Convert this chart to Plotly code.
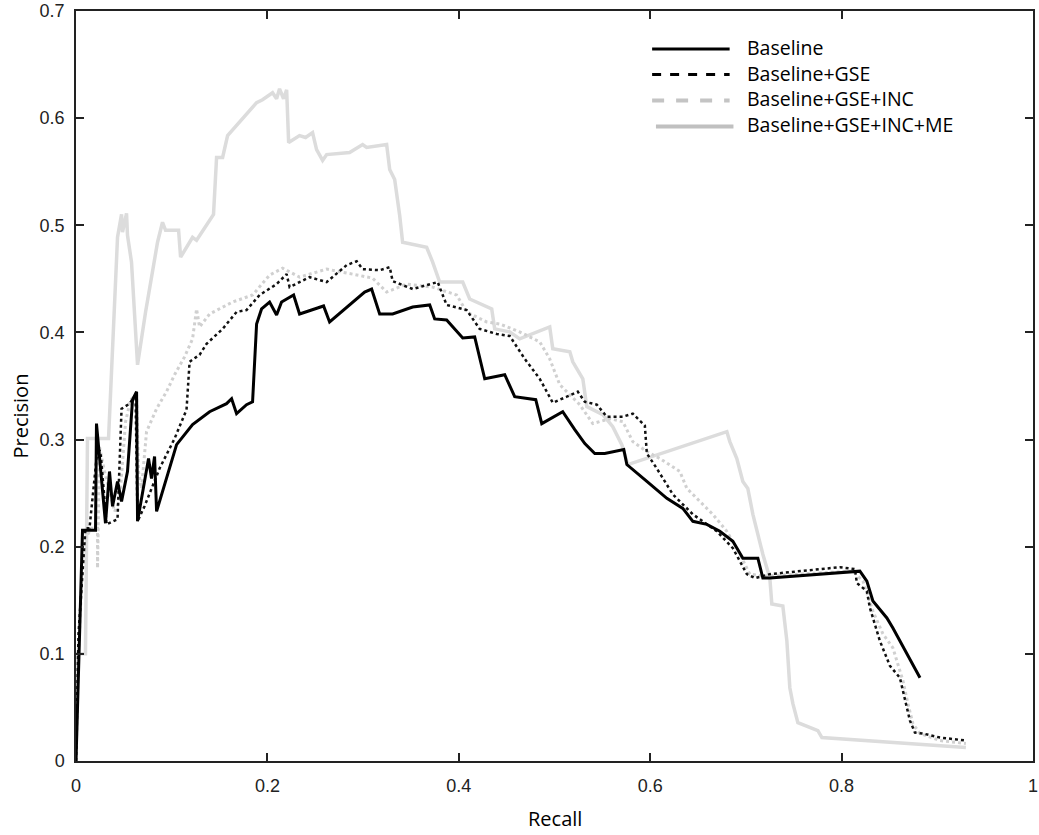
import plotly.graph_objects as go

# ---------------- data ----------------
baseline_x = [0.0, 0.0068, 0.0204, 0.0214, 0.0308, 0.0350, 0.0382, 0.0434, 0.0476, 0.0538,
              0.0591, 0.0633, 0.0643, 0.0758, 0.0789, 0.0821, 0.0842, 0.1051, 0.1218, 0.1396,
              0.1573, 0.1626, 0.1678, 0.1782, 0.1845, 0.1887, 0.1939, 0.2023, 0.2096, 0.2148,
              0.2274, 0.2336, 0.2587, 0.2650, 0.3016, 0.3089, 0.3173, 0.3309, 0.3518, 0.3696,
              0.3748, 0.3873, 0.4041, 0.4166, 0.4271, 0.4480, 0.4584, 0.4804, 0.4867, 0.5086,
              0.5212, 0.5317, 0.5421, 0.5525, 0.5724, 0.5756, 0.5965, 0.6174, 0.6341, 0.6446,
              0.6592, 0.6728, 0.6864, 0.6968, 0.7125, 0.7177, 0.7250, 0.8191, 0.8264, 0.8327,
              0.8473, 0.8536, 0.8819]
baseline_y = [0.0, 0.2153, 0.2153, 0.3149, 0.2219, 0.2702, 0.2377, 0.2609, 0.2423, 0.2702,
              0.3372, 0.3447, 0.2237, 0.2823, 0.2637, 0.2842, 0.2330, 0.2953, 0.3140, 0.3260,
              0.3335, 0.3381, 0.3242, 0.3326, 0.3353, 0.4079, 0.4219, 0.4284, 0.4163, 0.4284,
              0.4349, 0.4172, 0.4247, 0.4098, 0.4377, 0.4405, 0.4172, 0.4172, 0.4237, 0.4256,
              0.4126, 0.4116, 0.3949, 0.3958, 0.3567, 0.3605, 0.3400, 0.3372, 0.3149, 0.3260,
              0.3093, 0.2963, 0.2870, 0.2870, 0.2907, 0.2767, 0.2609, 0.2451, 0.2358, 0.2237,
              0.2209, 0.2144, 0.2051, 0.1893, 0.1893, 0.1707, 0.1707, 0.1772, 0.1679, 0.1493,
              0.1335, 0.1242, 0.0777]

gse_x = [0.0, 0.0026, 0.0099, 0.0141, 0.0225, 0.0256, 0.0319, 0.0434, 0.0476, 0.0559,
         0.0622, 0.0643, 0.0716, 0.0873, 0.1030, 0.1155, 0.1187, 0.1291, 0.1364, 0.1469,
         0.1532, 0.1678, 0.1782, 0.1918, 0.2096, 0.2201, 0.2232, 0.2441, 0.2619, 0.2828,
         0.2933, 0.2995, 0.3173, 0.3278, 0.3309, 0.3518, 0.3779, 0.3873, 0.4082, 0.4218,
         0.4396, 0.4532, 0.4689, 0.4846, 0.4982, 0.5128, 0.5243, 0.5316, 0.5442, 0.5546,
         0.5714, 0.5818, 0.5944, 0.5965, 0.6069, 0.6237, 0.6446, 0.6696, 0.6864, 0.7010,
         0.7094, 0.7250, 0.7982, 0.8139, 0.8160, 0.8264, 0.8296, 0.8400, 0.8505, 0.8609,
         0.8661, 0.8714, 0.8766, 0.8850, 0.9028, 0.9299]
gse_y = [0.0, 0.1186, 0.2172, 0.2172, 0.2916, 0.2888, 0.2209, 0.2256, 0.3288, 0.3335,
         0.3419, 0.2237, 0.2377, 0.2730, 0.3009, 0.3279, 0.3726, 0.3791, 0.3893, 0.3986,
         0.4033, 0.4191, 0.4209, 0.4349, 0.4451, 0.4544, 0.4423, 0.4516, 0.4470, 0.4628,
         0.4665, 0.4591, 0.4581, 0.4609, 0.4479, 0.4405, 0.4470, 0.4256, 0.4209, 0.4033,
         0.3986, 0.3967, 0.3753, 0.3567, 0.3344, 0.3400, 0.3447, 0.3353, 0.3326, 0.3214,
         0.3214, 0.3242, 0.3130, 0.2870, 0.2730, 0.2488, 0.2302, 0.2144, 0.1986, 0.1744,
         0.1707, 0.1744, 0.1809, 0.1791, 0.1660, 0.1586, 0.1428, 0.1121, 0.0888, 0.0777,
         0.0591, 0.0377, 0.0265, 0.0256, 0.0219, 0.0191]

inc_x = [0.0, 0.0026, 0.0078, 0.0162, 0.0225, 0.0225, 0.0246, 0.0298, 0.0403, 0.0455,
         0.0518, 0.0570, 0.0633, 0.0653, 0.0685, 0.0737, 0.0842, 0.0946, 0.1030, 0.1134,
         0.1218, 0.1260, 0.1291, 0.1396, 0.1636, 0.1845, 0.2023, 0.2159, 0.2336, 0.2619,
         0.2890, 0.3099, 0.3246, 0.3455, 0.3727, 0.3873, 0.3978, 0.4082, 0.4291, 0.4427,
         0.4636, 0.4846, 0.4950, 0.5055, 0.5264, 0.5400, 0.5578, 0.5714, 0.5818, 0.5965,
         0.6101, 0.6310, 0.6383, 0.6519, 0.6654, 0.6801, 0.6937, 0.7041, 0.7177, 0.8118,
         0.8223, 0.8327, 0.8432, 0.8536, 0.8588, 0.8641, 0.8693, 0.8745, 0.8819, 0.9028,
         0.9299]
inc_y = [0.0, 0.1005, 0.2051, 0.2172, 0.2172, 0.1800, 0.2930, 0.2702, 0.2330, 0.2423,
         0.3167, 0.3372, 0.3419, 0.2702, 0.2544, 0.3074, 0.3288, 0.3447, 0.3605, 0.3772,
         0.3940, 0.4219, 0.4051, 0.4172, 0.4284, 0.4349, 0.4535, 0.4600, 0.4516, 0.4591,
         0.4544, 0.4507, 0.4377, 0.4451, 0.4423, 0.4377, 0.4349, 0.4191, 0.4098, 0.4079,
         0.4005, 0.3912, 0.3753, 0.3512, 0.3326, 0.3149, 0.3195, 0.3167, 0.2981, 0.2888,
         0.2823, 0.2702, 0.2544, 0.2423, 0.2302, 0.2144, 0.1930, 0.1744, 0.1726, 0.1772,
         0.1679, 0.1400, 0.1186, 0.1056, 0.0907, 0.0749, 0.0535, 0.0349, 0.0256, 0.0191,
         0.0163]

me_x = [0.0, 0.0016, 0.0099, 0.0120, 0.0340, 0.0392, 0.0434, 0.0476, 0.0486, 0.0528,
        0.0538, 0.0580, 0.0643, 0.0727, 0.0852, 0.0904, 0.0936, 0.1072, 0.1093, 0.1218,
        0.1260, 0.1437, 0.1469, 0.1532, 0.1584, 0.1887, 0.1949, 0.2054, 0.2096, 0.2127,
        0.2169, 0.2201, 0.2222, 0.2336, 0.2399, 0.2472, 0.2514, 0.2577, 0.2619, 0.2859,
        0.2995, 0.3037, 0.3246, 0.3278, 0.3330, 0.3382, 0.3413, 0.3664, 0.3727, 0.3800,
        0.4041, 0.4114, 0.4344, 0.4375, 0.4532, 0.4636, 0.4950, 0.4982, 0.5160, 0.5191,
        0.5296, 0.5337, 0.5505, 0.5609, 0.5703, 0.5766, 0.6801, 0.6832, 0.6905, 0.6968,
        0.7020, 0.7073, 0.7125, 0.7177, 0.7250, 0.7271, 0.7386, 0.7428, 0.7459, 0.7491,
        0.7543, 0.7752, 0.7794, 0.9299]
me_y = [0.0, 0.1000, 0.1000, 0.3009, 0.3009, 0.4126, 0.4888, 0.5102, 0.4935, 0.5112,
        0.4907, 0.4656, 0.3698, 0.4191, 0.4842, 0.5028, 0.4953, 0.4953, 0.4702, 0.4888,
        0.4860, 0.5102, 0.5633, 0.5633, 0.5837, 0.6144, 0.6172, 0.6237, 0.6181, 0.6274,
        0.6181, 0.6265, 0.5772, 0.5837, 0.5819, 0.5865, 0.5707, 0.5605, 0.5660, 0.5679,
        0.5753, 0.5726, 0.5753, 0.5521, 0.5428, 0.5093, 0.4842, 0.4795, 0.4656, 0.4470,
        0.4470, 0.4312, 0.4219, 0.4033, 0.4005, 0.3940, 0.4051, 0.3847, 0.3819, 0.3726,
        0.3567, 0.3307, 0.3233, 0.3121, 0.2953, 0.2767, 0.3074, 0.2981, 0.2823, 0.2609,
        0.2544, 0.2302, 0.2116, 0.1930, 0.1707, 0.1465, 0.1447, 0.1121, 0.0684, 0.0535,
        0.0358, 0.0284, 0.0219, 0.0126]

series_names = ["Baseline", "Baseline+GSE", "Baseline+GSE+INC", "Baseline+GSE+INC+ME"]
x_ticks = [0, 0.2, 0.4, 0.6, 0.8, 1]
x_tick_labels = ["0", "0.2", "0.4", "0.6", "0.8", "1"]
y_ticks = [0, 0.1, 0.2, 0.3, 0.4, 0.5, 0.6, 0.7]
y_tick_labels = ["0", "0.1", "0.2", "0.3", "0.4", "0.5", "0.6", "0.7"]

# ---------------- figure ----------------
fig = go.Figure()
fig.add_trace(go.Scatter(x=me_x, y=me_y, mode="lines", name=series_names[3],
                         line=dict(color="#dcdcdc", width=3.5), showlegend=False))
fig.add_trace(go.Scatter(x=inc_x, y=inc_y, mode="lines", name=series_names[2],
                         line=dict(color="#d0d0d0", width=3, dash="dot"), showlegend=False))
fig.add_trace(go.Scatter(x=gse_x, y=gse_y, mode="lines", name=series_names[1],
                         line=dict(color="#111111", width=2.5, dash="dot"), showlegend=False))
fig.add_trace(go.Scatter(x=baseline_x, y=baseline_y, mode="lines", name=series_names[0],
                         line=dict(color="#000000", width=3), showlegend=False))
# empty trace so the top (mirror) axis with its inside ticks is drawn
fig.add_trace(go.Scatter(x=[], y=[], xaxis="x2", yaxis="y", showlegend=False,
                         hoverinfo="skip"))

# manual legend (line samples + labels), in paper coordinates
leg_styles = [dict(color="#000000", width=3),
              dict(color="#000000", width=3, dash="dash"),
              dict(color="#c4c4c4", width=4, dash="dash"),
              dict(color="#c0c0c0", width=4)]
leg_line_y = [0.9493, 0.9153, 0.8807, 0.8460]
leg_text_y = [0.9507, 0.9167, 0.8827, 0.8487]
for i, name in enumerate(series_names):
    fig.add_shape(type="line", xref="paper", yref="paper",
                  x0=0.602 if i < 3 else 0.606, x1=0.683 if i < 3 else 0.687,
                  y0=leg_line_y[i], y1=leg_line_y[i], line=leg_styles[i])
    fig.add_annotation(xref="paper", yref="paper", x=0.700, y=leg_text_y[i],
                       text=name, showarrow=False, xanchor="left", yanchor="middle",
                       borderpad=0,
                       font=dict(family="Open Sans", size=19.5, color="#000000"))

# axis titles
fig.add_annotation(xref="paper", yref="paper", x=0.5, y=-0.076, text="Recall",
                   showarrow=False, xanchor="center", yanchor="middle",
                   font=dict(family="Open Sans", size=20, color="#000000"))
fig.add_annotation(xref="paper", yref="paper", x=-0.059, y=0.46, text="Precision",
                   textangle=-90, showarrow=False, xanchor="center", yanchor="middle",
                   font=dict(family="Open Sans", size=20, color="#000000"))

axis_common = dict(showgrid=False, zeroline=False, showline=True, automargin=False,
                   linecolor="#222222", linewidth=1.5, ticks="inside", ticklen=8,
                   tickwidth=1.5, tickcolor="#222222", ticklabeloverflow="allow",
                   tickfont=dict(family="Liberation Sans", size=18, color="#222222"))

fig.update_layout(
    xaxis=dict(range=[0, 1], tickvals=x_ticks, ticktext=x_tick_labels,
               ticklabelstandoff=8, mirror=False, **axis_common),
    xaxis2=dict(range=[0, 1], tickvals=x_ticks, overlaying="x", side="top",
                anchor="y", showticklabels=False, mirror=False, **axis_common),
    yaxis=dict(range=[0, 0.7], tickvals=y_ticks, ticktext=y_tick_labels,
               ticklabelstandoff=6, mirror="ticks", **axis_common),
    width=1039, height=835, paper_bgcolor="white", plot_bgcolor="white",
    margin=dict(l=76, r=6, t=11, b=74), showlegend=False, hovermode=False,
)

fig.write_html("out.html", config={"displayModeBar": False},
               post_script="document.body.style.margin='0';document.body.style.overflow='hidden';")
